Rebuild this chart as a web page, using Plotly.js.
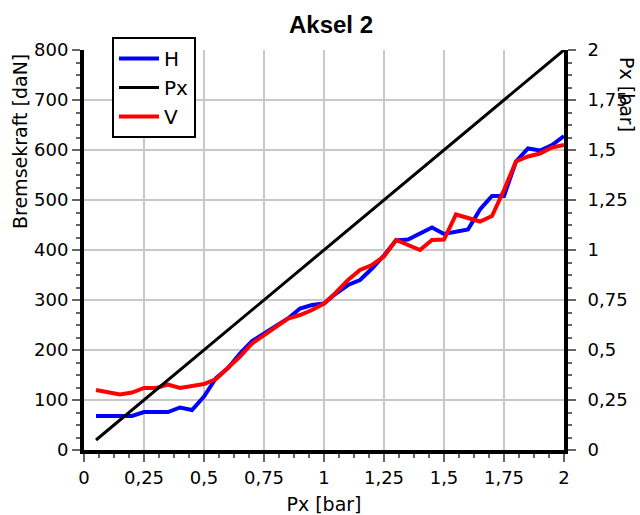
<!DOCTYPE html>
<html><head><meta charset="utf-8">
<script src="https://cdn.plot.ly/plotly-3.0.1.min.js"></script>
<style>html,body{margin:0;padding:0;background:#fff}#chart{width:640px;height:515px}</style>
</head><body><div id="chart"></div>
<script>
// Px [bar] sample points
const pxBar = [0.05,0.10,0.15,0.20,0.25,0.30,0.35,0.40,0.45,0.50,
               0.55,0.60,0.65,0.70,0.75,0.80,0.85,0.90,0.95,1.00,
               1.05,1.10,1.15,1.20,1.25,1.30,1.35,1.40,1.45,1.50,
               1.55,1.60,1.65,1.70,1.75,1.80,1.85,1.90,1.95,2.00];
// Bremsekraft H [daN]
const bremsH = [68,68,68,68,76,76,76,85,80,107,
                144,164,193,218,234,248,263,283,290,293,
                313,330,340,363,389,419,421,432,445,432,
                437,441,481,508,508,577,603,599,610,628];
// Px line [bar]
const pxLine = [0.05,0.10,0.15,0.20,0.25,0.30,0.35,0.40,0.45,0.50,
                0.55,0.60,0.65,0.70,0.75,0.80,0.85,0.90,0.95,1.00,
                1.05,1.10,1.15,1.20,1.25,1.30,1.35,1.40,1.45,1.50,
                1.55,1.60,1.65,1.70,1.75,1.80,1.85,1.90,1.95,2.00];
// Bremsekraft V [daN]
const bremsV = [120,115,111,115,124,124,131,124,128,132,
                142,165,187,213,230,246,263,270,280,293,
                315,340,360,370,387,420,410,400,420,421,
                471,463,457,468,520,577,587,593,605,610];

const xTickVals = [0,0.25,0.5,0.75,1,1.25,1.5,1.75,2];
const xTickText = ['0','0,25','0,5','0,75','1','1,25','1,5','1,75','2'];
const yTickVals = [0,100,200,300,400,500,600,700,800];
const yTickText = ['0','100','200','300','400','500','600','700','800'];
const y2TickVals = [0,0.25,0.5,0.75,1,1.25,1.5,1.75,2];
const y2TickText = ['0','0,25','0,5','0,75','1','1,25','1,5','1,75','2'];

const F = 'DejaVu Sans';
const tickCol = '#666';
const axisCommon = {
  showline:true, linecolor:'#000', linewidth:4,
  ticks:'outside', ticklen:8, tickwidth:2, tickcolor:tickCol,
  tickfont:{family:F, size:18, color:'#000'},
  zeroline:false, tickmode:'array', fixedrange:true
};

const traces = [
  {x:pxBar, y:bremsH, name:'H', type:'scatter', mode:'lines', legendgroup:'a',
   line:{color:'#0000ff', width:4}},
  {x:pxBar, y:pxLine, name:'Px', type:'scatter', mode:'lines', yaxis:'y2', legendgroup:'b',
   line:{color:'#000000', width:3}},
  {x:pxBar, y:bremsV, name:'V', type:'scatter', mode:'lines', legendgroup:'c',
   line:{color:'#ff0000', width:4}}
];

const layout = {
  width:640, height:515,
  margin:{l:84, r:76, t:50, b:65, pad:0},
  paper_bgcolor:'#fff', plot_bgcolor:'#fff',
  font:{family:F, color:'#000'},
  title:{text:'Aksel 2', font:{family:'Liberation Sans', size:24, weight:'bold', color:'#000'},
         x:(331-84)/480, xref:'paper', xanchor:'center', y:1-25/515, yref:'container', yanchor:'middle'},
  xaxis:Object.assign({}, axisCommon, {
    range:[0,2], tickvals:xTickVals, ticktext:xTickText,
    showgrid:true, gridcolor:'#c8c8c8', gridwidth:2,
    minor:{tick0:0, dtick:0.0625, ticks:'outside', ticklen:4, tickwidth:2, tickcolor:tickCol, showgrid:false},
    title:{text:'Px [bar]', font:{family:F, size:19, color:'#000'}, standoff:12}
  }),
  yaxis:Object.assign({}, axisCommon, {
    range:[0,800], tickvals:yTickVals, ticktext:yTickText,
    showgrid:true, gridcolor:'#c8c8c8', gridwidth:2,
    minor:{tick0:0, dtick:25, ticks:'outside', ticklen:4, tickwidth:2, tickcolor:tickCol, showgrid:false}
  }),
  yaxis2:Object.assign({}, axisCommon, {
    overlaying:'y', side:'right', range:[0,2],
    tickvals:y2TickVals, ticktext:y2TickText, showgrid:false,
    ticklabelstandoff:8,
    minor:{tick0:0, dtick:0.0625, ticks:'outside', ticklen:4, tickwidth:2, tickcolor:tickCol, showgrid:false}
  }),
  showlegend:true,
  legend:{x:(112-84)/480, y:(450-37)/400, xanchor:'left', yanchor:'top',
          bgcolor:'#fff', bordercolor:'#000', borderwidth:2,
          font:{family:F, size:20, color:'#000'}, tracegroupgap:0, itemwidth:40,
          traceorder:'normal'},
  annotations:[
    {text:'Bremsekraft [daN]', textangle:-90, xref:'paper', yref:'paper',
     x:(20-84)/480, y:(450-142)/400, xanchor:'center', yanchor:'middle', showarrow:false,
     font:{family:F, size:19, color:'#000'}},
    {text:'Px [bar]', textangle:90, xref:'paper', yref:'paper',
     x:(627-84)/480, y:(450-94)/400, xanchor:'center', yanchor:'middle', showarrow:false,
     font:{family:F, size:19, color:'#000'}}
  ]
};

Plotly.newPlot('chart', traces, layout, {staticPlot:true, displayModeBar:false});
</script>
</body></html>
